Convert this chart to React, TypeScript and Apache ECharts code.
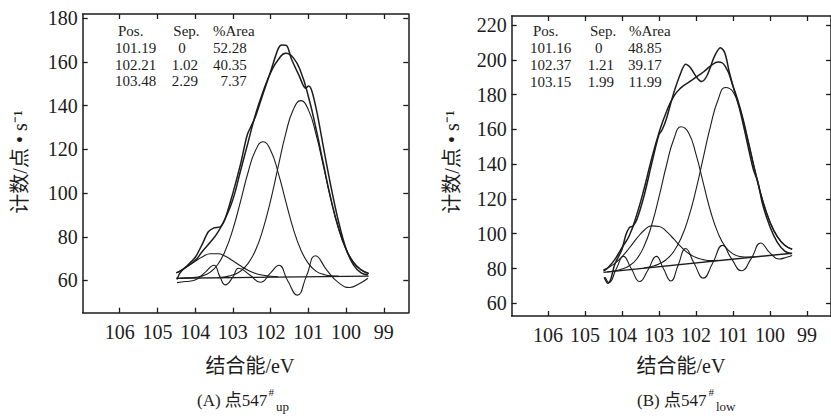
import React, { useEffect, useRef } from "react";
import * as echarts from "echarts";

// ---------- data ----------
const energyGrid = [104.5, 104.4, 104.2, 104.0, 103.8, 103.6, 103.4, 103.2, 103.0, 102.8, 102.6, 102.4, 102.2, 102.0, 101.8, 101.6, 101.4, 101.2, 101.0, 100.8, 100.6, 100.4, 100.2, 100.0, 99.8, 99.6, 99.4];

const xTicks = [106, 105, 104, 103, 102, 101, 100, 99];
const yTicksA = [60, 80, 100, 120, 140, 160, 180];
const yTicksB = [60, 80, 100, 120, 140, 160, 180, 200, 220];

// Panel A (点547# up)
const envA = [63.5, 64.3, 66.6, 69.1, 73.5, 77.5, 82.0, 88.5, 97.0, 110.0, 123.0, 136.0, 146.4, 155.1, 161.0, 164.0, 162.0, 155.5, 144.3, 129.8, 113.3, 97.2, 84.0, 74.3, 68.2, 64.9, 63.2];
const peak1A = [null, null, null, null, null, null, 61.3, 61.7, 62.5, 64.2, 67.7, 73.8, 83.5, 96.6, 112.0, 127.1, 138.1, 142.3, 138.2, 127.2, 112.3, 96.9, 83.9, 74.3, 68.2, 64.9, 63.2];
const peak2A = [null, 61.0, 61.2, 61.4, 62.1, 63.8, 67.3, 73.7, 83.4, 96.0, 109.3, 119.5, 123.5, 119.6, 109.4, 96.3, 83.7, 74.1, 67.8, 64.3, 62.8, 62.1, 62.0, null, null, null, null];
const peak3A = [63.5, 64.3, 66.5, 68.8, 70.9, 72.2, 72.2, 71.1, 69.0, 66.7, 64.7, 63.2, 62.4, 61.9, 61.7, null, null, null, null, null, null, null, null, null, null, null, null];
const rawAX = [104.48, 104.4, 104.2, 104.0, 103.8, 103.65, 103.5, 103.33, 103.2, 103.0, 102.8, 102.62, 102.5, 102.4, 102.2, 102.0, 101.8, 101.7, 101.58, 101.45, 101.25, 101.07, 100.99, 100.9, 100.76, 100.6, 100.4, 100.2, 100.0, 99.8, 99.6, 99.42];
const rawAY = [60.5, 63.5, 67.0, 70.5, 77.0, 82.3, 84.1, 84.6, 88.5, 100.0, 113.0, 126.6, 131.2, 135.0, 145.5, 155.6, 166.0, 167.8, 167.6, 161.5, 154.0, 148.0, 149.0, 146.4, 136.0, 121.0, 103.0, 87.0, 74.5, 67.0, 63.5, 62.5];
const resAX = [104.48, 104.25, 104.0, 103.75, 103.5, 103.35, 103.2, 103.0, 102.85, 102.55, 102.27, 102.0, 101.78, 101.55, 101.29, 101.05, 100.81, 100.5, 100.2, 99.9, 99.65, 99.42];
const resAY = [59.0, 59.5, 60.2, 63.5, 67.0, 62.0, 58.0, 61.5, 65.6, 62.5, 59.2, 63.5, 67.0, 60.0, 53.3, 62.0, 71.3, 64.5, 59.0, 56.8, 58.5, 61.0];
const bgX = [104.5, 99.4];
const bgAY = [61.0, 62.0];

// Panel B (点547# low)
const envB = [78.5, 80.0, 85.0, 92.0, 99.0, 111.0, 126.0, 143.0, 158.0, 170.0, 179.0, 184.0, 187.0, 190.0, 193.0, 196.5, 198.8, 196.0, 185.0, 171.8, 154.4, 135.8, 119.3, 106.8, 98.3, 93.4, 91.1];
const peak1B = [null, null, null, null, null, null, 80.4, 81.2, 82.6, 85.2, 89.8, 97.5, 109.3, 125.2, 143.9, 162.5, 177.2, 184.1, 181.6, 170.7, 154.0, 135.7, 119.3, 106.8, 98.3, 93.4, 91.1];
const peak2B = [null, 78.1, 78.6, 79.7, 81.6, 85.5, 92.9, 104.8, 121.0, 139.1, 154.3, 161.5, 158.1, 145.8, 128.9, 112.5, 100.2, 92.4, 88.4, 86.9, 86.6, 86.7, null, null, null, null, null];
const peak3B = [79.3, 80.2, 82.8, 86.8, 91.8, 97.3, 102.0, 104.5, 104.2, 101.4, 97.0, 92.4, 88.7, 86.3, 85.1, 84.6, 84.7, null, null, null, null, null, null, null, null, null, null];
const rawBX = [104.48, 104.38, 104.3, 104.2, 104.0, 103.9, 103.8, 103.7, 103.6, 103.4, 103.2, 103.0, 102.92, 102.8, 102.6, 102.4, 102.28, 102.15, 102.0, 101.85, 101.7, 101.5, 101.34, 101.22, 101.1, 101.0, 100.8, 100.6, 100.45, 100.33, 100.2, 100.0, 99.8, 99.6, 99.42];
const rawBY = [75.0, 71.5, 74.0, 82.0, 91.0, 99.0, 103.5, 104.5, 108.0, 122.0, 140.0, 157.0, 159.5, 166.0, 181.0, 193.0, 197.5, 195.5, 190.5, 187.5, 191.0, 202.0, 207.0, 204.0, 193.0, 185.0, 170.0, 151.0, 137.0, 130.0, 117.0, 104.0, 95.0, 90.0, 88.5];
const resBX = [104.45, 104.35, 104.15, 103.96, 103.75, 103.52, 103.3, 103.07, 102.88, 102.68, 102.48, 102.28, 102.05, 101.8, 101.55, 101.28, 101.05, 100.77, 100.5, 100.25, 100.0, 99.75, 99.55, 99.4];
const resBY = [75.0, 72.0, 80.0, 87.0, 80.0, 72.5, 79.0, 87.0, 80.0, 72.8, 82.0, 91.5, 83.0, 74.5, 83.0, 93.3, 86.0, 78.7, 86.0, 94.7, 89.0, 85.5, 86.5, 87.5];
const bgBY = [77.8, 88.8];

const tableA = [
  ["101.19", "0", "52.28"],
  ["102.21", "1.02", "40.35"],
  ["103.48", "2.29", "7.37"],
];
const tableB = [
  ["101.16", "0", "48.85"],
  ["102.37", "1.21", "39.17"],
  ["103.15", "1.99", "11.99"],
];

// ---------- helpers ----------
const FONT = "'Liberation Serif', 'Times New Roman', 'Noto Sans CJK SC', serif";
const INK = "#1c1c1c";

const pairs = (xs: number[], ys: (number | null)[]) =>
  xs.map((x, i) => [x, ys[i]]).filter((p) => p[1] !== null && p[1] !== undefined);

const txt = (text: string, x: number, y: number, size: number, align = "left", extra: any = {}) => ({
  type: "text",
  x,
  y,
  silent: true,
  ...extra,
  style: {
    text,
    fontSize: size,
    fontFamily: FONT,
    fill: INK,
    align,
    textAlign: align,
    verticalAlign: "middle",
    textVerticalAlign: "middle",
  },
});

const axisLine = { show: true, onZero: false, lineStyle: { color: INK, width: 1.5 } };

const xAxisFor = (gridIndex: number, position: string, labels: boolean) => ({
  type: "value",
  gridIndex,
  position,
  min: 98.35,
  max: 106.98,
  inverse: true,
  axisLine,
  axisTick: { show: true, inside: true, length: 5, customValues: xTicks, lineStyle: { color: INK, width: 1.3 } },
  axisLabel: {
    show: labels,
    customValues: xTicks,
    fontSize: 20,
    fontFamily: FONT,
    color: INK,
    margin: 9,
    formatter: (v: number) => String(v),
  },
  splitLine: { show: false },
});

const yAxisFor = (gridIndex: number, position: string, labels: boolean, min: number, max: number, ticks: number[]) => ({
  type: "value",
  gridIndex,
  position,
  min,
  max,
  axisLine,
  axisTick: { show: true, inside: true, length: 5, customValues: ticks, lineStyle: { color: INK, width: 1.3 } },
  axisLabel: {
    show: labels,
    customValues: ticks,
    fontSize: 20,
    fontFamily: FONT,
    color: INK,
    margin: 5,
    formatter: (v: number) => String(v),
  },
  splitLine: { show: false },
});

const line = (data: any[], axis: number, width: number, smooth: number | boolean = true) => ({
  type: "line",
  xAxisIndex: axis,
  yAxisIndex: axis,
  data,
  smooth,
  showSymbol: false,
  silent: true,
  lineStyle: { color: INK, width },
});

const tableGraphics = (rows: string[][], c1: number, c2s: number[], c3: number, hdr: number[], ys: number[], rightAlign: boolean) => {
  const out: any[] = [];
  out.push(txt("Pos.", hdr[0], ys[0], 15));
  out.push(txt("Sep.", hdr[1], ys[0], 15));
  out.push(txt("%Area", hdr[2], ys[0], 15));
  rows.forEach((r, i) => {
    out.push(txt(r[0], c1, ys[i + 1], 15));
    out.push(txt(r[1], c2s[i], ys[i + 1], 15));
    out.push(txt(r[2], c3, ys[i + 1], 15, rightAlign ? "right" : "left"));
  });
  return out;
};

export default function App() {
  const ref = useRef<HTMLDivElement>(null);

  useEffect(() => {
    if (!ref.current) return;
    const chart = echarts.init(ref.current, null, { renderer: "svg" });

    const yTitle = "计数/点 • s⁻¹";
    const graphic: any[] = [
      ...tableGraphics(tableA, 115, [178.3, 171.7, 171.7], 246.7, [118, 173.3, 213], [30.5, 48, 64.7, 81.3], true),
      ...tableGraphics(tableB, 530, [595, 587.7, 587.7], 661.7, [533, 590, 629], [31, 48, 65, 82], true),
      txt(yTitle, 20, 162, 20, "center", { rotation: Math.PI / 2 }),
      txt(yTitle, 452, 162, 20, "center", { rotation: Math.PI / 2 }),
      txt("结合能/eV", 250, 366, 20, "center"),
      txt("结合能/eV", 681, 366, 20, "center"),
      txt("(A) 点547", 197, 400, 17),
      txt("#", 268.5, 392, 11),
      txt("up", 276, 406, 13),
      txt("(B) 点547", 637, 400, 17),
      txt("#", 708.5, 392, 11),
      txt("low", 716, 406, 13),
    ];

    const option: any = {
      animation: false,
      backgroundColor: "#ffffff",
      grid: [
        { left: 82.7, top: 14, width: 325.6, height: 298.7 },
        { left: 511.7, top: 16, width: 325, height: 300 },
      ],
      xAxis: [
        xAxisFor(0, "bottom", true),
        xAxisFor(0, "top", false),
        xAxisFor(1, "bottom", true),
        xAxisFor(1, "top", false),
      ],
      yAxis: [
        yAxisFor(0, "left", true, 45.25, 181.97, yTicksA),
        yAxisFor(0, "right", false, 45.25, 181.97, yTicksA),
        yAxisFor(1, "left", true, 52.7, 225.2, yTicksB),
        yAxisFor(1, "right", false, 52.7, 225.2, yTicksB),
      ],
      series: [
        // Panel A
        line(pairs(bgX, bgAY), 0, 1.4, false),
        line(pairs(energyGrid, peak1A), 0, 1.1),
        line(pairs(energyGrid, peak2A), 0, 1.1),
        line(pairs(energyGrid, peak3A), 0, 1.1),
        line(pairs(resAX, resAY), 0, 1.1),
        line(pairs(energyGrid, envA), 0, 1.5),
        line(pairs(rawAX, rawAY), 0, 1.5, 0.3),
        // Panel B
        line(pairs(bgX, bgBY), 2, 1.4, false),
        line(pairs(energyGrid, peak1B), 2, 1.1),
        line(pairs(energyGrid, peak2B), 2, 1.1),
        line(pairs(energyGrid, peak3B), 2, 1.1),
        line(pairs(resBX, resBY), 2, 1.1),
        line(pairs(energyGrid, envB), 2, 1.5),
        line(pairs(rawBX, rawBY), 2, 1.5, 0.3),
      ],
      graphic,
    };
    // map the series axis index to x/y axis indices (bottom/left axes)
    option.series.forEach((s: any) => {
      s.xAxisIndex = s.xAxisIndex;
      s.yAxisIndex = s.yAxisIndex;
    });

    chart.setOption(option);
    return () => chart.dispose();
  }, []);

  return (
    <div
      ref={ref}
      style={{ position: "absolute", left: 0, top: 0, width: 831, height: 418, background: "#fff" }}
    />
  );
}
